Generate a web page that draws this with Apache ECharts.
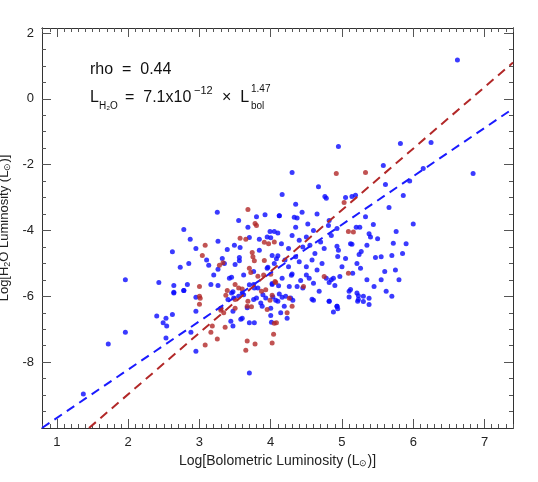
<!DOCTYPE html>
<html>
<head>
<meta charset="utf-8">
<script src="https://cdn.jsdelivr.net/npm/echarts@6/dist/echarts.min.js"></script>
<style>html,body{margin:0;padding:0;background:#fff}#chart{width:538px;height:482px}</style>
</head>
<body>
<div id="chart"></div>
<script>
// 蓝色点：全部源
var bluePoints = [
  [6.62,1.18],[5.82,-1.36],[6.25,-1.33],[4.95,-1.45],[5.58,-2.03],[6.14,-2.12],[6.84,-2.27],[4.30,-2.24],
  [4.16,-2.91],[4.67,-2.67],[4.76,-2.97],[4.78,-3.02],[5.61,-2.6],[5.86,-2.94],[5.05,-3.0],[5.14,-2.97],
  [5.19,-2.93],[5.66,-3.3],[4.12,-3.55],[4.44,-3.45],[4.33,-3.6],[4.37,-3.62],[4.65,-3.5],[5.33,-3.58],
  [4.82,-3.7],[4.81,-3.85],[4.93,-3.94],[5.44,-3.82],[5.2,-3.9],[5.25,-3.9],[5.38,-4.1],[5.76,-4.03],
  [5.72,-4.39],[5.4,-4.2],[5.14,-4.42],[5.27,-4.64],[5.7,-4.76],[5.47,-4.82],[5.55,-4.8],[5.24,-4.73],
  [5.21,-5.0],[5.26,-5.15],[4.93,-4.48],[4.94,-4.79],[5.12,-4.4],[4.97,-5.4],[4.88,-5.45],[4.85,-5.5],
  [4.82,-5.58],[4.9,-5.67],[4.82,-6.15],[4.93,-6.3],[5.12,-5.79],[5.1,-5.85],[5.21,-5.9],[5.23,-5.98],
  [5.3,-6.0],[5.38,-6.06],[4.6,-6.12],[4.78,-5.45],[4.54,-5.45],[4.42,-5.52],[4.37,-5.7],[4.26,-5.7],
  [4.29,-5.36],[4.3,-5.32],[4.16,-5.45],[4.02,-5.64],[4.11,-5.68],[4.16,-6.03],[4.21,-6.0],[4.19,-6.3],
  [1.96,-5.5],[2.43,-5.58],[2.64,-5.67],[2.64,-5.88],[2.78,-5.82],[2.83,-5.64],[2.95,-6.03],[3.16,-5.64],
  [3.26,-5.67],[3.25,-3.45],[2.78,-3.97],[2.87,-4.27],[2.73,-5.12],[2.85,-5.0],[3.13,-5.06],[3.26,-5.18],
  [3.26,-4.33],[3.39,-4.58],[3.49,-4.45],[3.57,-4.52],[3.8,-3.58],[3.92,-3.52],[4.12,-3.55],[3.7,-4.21],
  [3.84,-4.27],[3.99,-4.03],[4.05,-4.03],[4.1,-4.08],[3.95,-4.2],[4.0,-4.22],[3.42,-5.45],[3.5,-5.03],
  [3.56,-4.82],[3.56,-4.92],[3.45,-5.42],[3.84,-4.6],[4.02,-4.76],[3.76,-5.25],[3.96,-5.12],[3.95,-5.15],
  [4.05,-5.0],[4.08,-4.86],[4.1,-4.77],[4.02,-5.61],[3.7,-5.65],[3.76,-5.64],[3.77,-5.75],[3.82,-5.75],
  [3.45,-5.9],[3.47,-5.86],[3.6,-5.9],[3.76,-6.1],[3.89,-5.95],[4.03,-6.02],[4.07,-6.12],[4.12,-5.93],
  [3.4,-6.1],[1.72,-7.45],[1.96,-7.09],[1.37,-8.97],[2.4,-6.6],[2.49,-6.8],[2.53,-6.67],[2.62,-6.55],
  [2.54,-6.9],[2.53,-7.27],[2.64,-5.9],[2.78,-5.82],[2.88,-7.09],[2.95,-6.45],[2.95,-7.67],[3.44,-6.76],
  [3.47,-6.9],[3.3,-6.36],[3.47,-6.45],[3.48,-6.05],[3.55,-6.0],[3.62,-5.95],[3.6,-6.67],[3.58,-6.7],
  [3.7,-6.8],[3.77,-6.8],[3.67,-6.35],[3.7,-8.33],[3.8,-6.05],[3.86,-6.2],[3.88,-6.3],[3.93,-6.05],
  [4.0,-6.36],[4.0,-6.58],[4.01,-6.79],[4.23,-6.67],[4.1,-6.15],[4.14,-6.5],[4.28,-6.05],[4.31,-6.12],
  [4.58,-6.09],[4.82,-6.15],[4.88,-6.48],[4.93,-6.3],[4.94,-6.38],[5.1,-6.02],[5.22,-6.15],[5.23,-6.1],
  [5.3,-6.16],[5.38,-6.25],[4.4,-4.3],[4.45,-4.5],[4.5,-4.2],[4.55,-4.45],[4.6,-4.0],[4.62,-4.7],
  [4.7,-4.35],[4.75,-4.55],[4.35,-4.8],[4.4,-4.95],[4.5,-5.1],[4.58,-4.9],[4.65,-5.2],[4.72,-5.0],
  [4.25,-4.55],[4.3,-4.15],[4.2,-4.9],[4.25,-5.1],[4.5,-5.35],[4.45,-5.75],[4.6,-5.6],[4.68,-5.85],
  [4.15,-4.4],[4.35,-3.9],[4.52,-3.8],[4.85,-4.15],[4.95,-4.6],[5.0,-5.1],[5.05,-4.85],[5.35,-4.45],
  [5.5,-4.25],[5.6,-5.25],[5.55,-5.5],[5.75,-5.2],[5.8,-5.5],[5.85,-4.7],[5.9,-4.4],[6.0,-3.8],
  [5.62,-5.85],[5.7,-6.0],[5.45,-5.7],[5.35,-5.5],[5.15,-5.3],[4.35,-3.2],[3.55,-3.7],[3.68,-3.9],
  [2.62,-4.65],[2.95,-4.55],[3.1,-4.9],[3.2,-5.35],[3.35,-5.0],[3.62,-5.35],[3.32,-4.85],[5.95,-2.5]
];
// 红色点
var redPoints = [
  [4.92,-2.27],[5.33,-2.24],[5.03,-3.15],[5.09,-4.03],[5.16,-4.05],[4.75,-5.4],[4.46,-5.7],[4.06,-5.55],
  [4.26,-6.06],[4.02,-5.97],[5.09,-5.3],[3.0,-5.7],[3.01,-6.06],[3.0,-6.24],[3.08,-4.45],[3.04,-4.76],
  [3.28,-5.06],[3.33,-4.98],[3.68,-3.36],[3.78,-3.79],[3.8,-3.85],[3.57,-4.24],[3.65,-4.27],[3.91,-4.36],
  [3.97,-4.4],[4.05,-4.35],[3.74,-4.67],[3.75,-4.8],[3.77,-4.92],[3.91,-4.91],[3.7,-5.15],[3.72,-5.28],
  [3.82,-5.39],[3.9,-5.35],[4.0,-5.33],[4.07,-5.58],[3.5,-5.64],[3.39,-5.82],[3.37,-5.97],[3.55,-5.75],
  [3.6,-5.78],[3.68,-6.15],[3.87,-5.85],[3.93,-5.8],[3.99,-6.12],[3.0,-6.0],[3.08,-7.48],[3.16,-7.09],
  [3.18,-6.9],[3.25,-7.3],[3.3,-6.36],[3.34,-6.5],[3.36,-6.94],[3.5,-6.36],[3.5,-6.1],[3.67,-6.3],
  [3.73,-6.32],[3.67,-7.36],[3.65,-7.64],[3.78,-7.45],[3.95,-6.4],[4.05,-6.82],[4.08,-6.8],[4.04,-7.15],
  [4.02,-7.42],[4.3,-6.3],[4.23,-6.5],[3.3,-6.42]
];
// 拟合线
var blueFit = [[0.79,-10.0],[7.4,-0.3]];
var redFit = [[1.45,-10.0],[7.4,1.1]];
// 刻度
var xTicks = [1, 2, 3, 4, 5, 6, 7];
var yTicks = [-8, -6, -4, -2, 0, 2];

var xMin = 0.79, xMax = 7.4, yMin = -10, yMax = 2.15;
var xMinor = [], yMinor = [];
for (var v = 0.8; v < xMax; v += 0.1) xMinor.push(Math.round(v * 10) / 10);
for (var w = -9.5; w < yMax; w += 0.5) yMinor.push(w);

var font = 'Helvetica, "Liberation Sans", Arial, sans-serif';
var lineCol = '#333';
function xAx(pos, ticks, len, label) {
  return {type: 'value', position: pos, min: xMin, max: xMax,
    axisLine: {show: true, onZero: false, lineStyle: {color: lineCol}},
    axisTick: {show: true, inside: true, length: len, lineStyle: {color: '#555'}, customValues: ticks},
    axisLabel: label ? {color: '#222', fontSize: 13, margin: 8, customValues: ticks} : {show: false},
    splitLine: {show: false}};
}
function yAx(pos, ticks, len, label) {
  return {type: 'value', position: pos, min: yMin, max: yMax,
    axisLine: {show: true, onZero: false, lineStyle: {color: lineCol}},
    axisTick: {show: true, inside: true, length: len, lineStyle: {color: '#555'}, customValues: ticks},
    axisLabel: label ? {color: '#222', fontSize: 13, margin: 8, customValues: ticks} : {show: false},
    splitLine: {show: false}};
}
var xb = xAx('bottom', xTicks, 9, true);
xb.name = '{a|Log[Bolometric Luminosity (L}{s|⊙}{a|)]}';
xb.nameLocation = 'middle'; xb.nameGap = 24;
xb.nameTextStyle = {rich: {a: {fontSize: 14, color: '#222'}, s: {fontSize: 9, color: '#222', verticalAlign: 'bottom', padding: [6, 0, 0, 0]}}};
var yl = yAx('left', yTicks, 9, true);
yl.name = '{a|Log[H}{s|2}{a|O Luminosity (L}{s|⊙}{a|)]}';
yl.nameLocation = 'middle'; yl.nameGap = 22;
yl.nameTextStyle = {rich: {a: {fontSize: 13, color: '#222'}, s: {fontSize: 9, color: '#222', verticalAlign: 'bottom', padding: [6, 0, 0, 0]}}};

var chart = echarts.init(document.getElementById('chart'));
var option = {
  animation: false,
  textStyle: {fontFamily: font},
  grid: {left: 42, right: 25, top: 28, bottom: 54, containLabel: false, outerBoundsMode: 'none'},
  xAxis: [xb, xAx('top', xTicks, 9, false), xAx('bottom', xMinor, 4, false), xAx('top', xMinor, 4, false)],
  yAxis: [yl, yAx('right', yTicks, 9, false), yAx('left', yMinor, 4, false), yAx('right', yMinor, 4, false)],
  graphic: [
    {type: 'text', left: 90, top: 62, style: {text: 'rho  =  0.44', fontSize: 16, fill: '#111', fontFamily: font}},
    {type: 'text', left: 90, top: 90, style: {text: 'L', fontSize: 16, fill: '#111', fontFamily: font}},
    {type: 'text', left: 99, top: 101, style: {text: 'H₂O', fontSize: 10, fill: '#111', fontFamily: font}},
    {type: 'text', left: 125, top: 90, style: {text: '=  7.1x10', fontSize: 16, fill: '#111', fontFamily: font}},
    {type: 'text', left: 194, top: 85, style: {text: '−12', fontSize: 11, fill: '#111', fontFamily: font}},
    {type: 'text', left: 222, top: 90, style: {text: '×  L', fontSize: 16, fill: '#111', fontFamily: font}},
    {type: 'text', left: 251, top: 84, style: {text: '1.47', fontSize: 10, fill: '#111', fontFamily: font}},
    {type: 'text', left: 251, top: 101, style: {text: 'bol', fontSize: 10, fill: '#111', fontFamily: font}}
  ],
  series: [
    {type: 'scatter', data: bluePoints, symbolSize: 5, itemStyle: {color: '#0a0aff'}, z: 3},
    {type: 'scatter', data: redPoints, symbolSize: 5, itemStyle: {color: '#b22828'}, z: 4},
    {type: 'line', data: blueFit, symbol: 'none', lineStyle: {color: '#1a1aff', width: 2, type: [9, 6]}, z: 5},
    {type: 'line', data: redFit, symbol: 'none', lineStyle: {color: '#b22828', width: 2, type: [9, 6]}, z: 5}
  ]
};
chart.setOption(option);
</script>
</body>
</html>
